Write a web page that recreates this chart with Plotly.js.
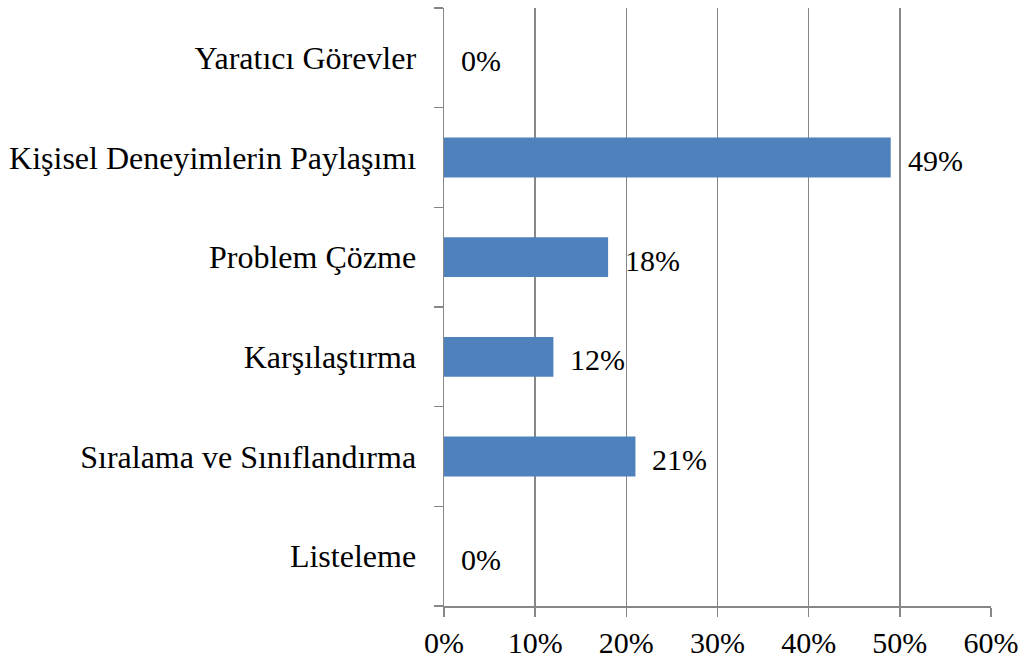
<!DOCTYPE html>
<html>
<head>
<meta charset="utf-8">
<script src="https://cdn.plot.ly/plotly-3.0.1.min.js"></script>
<style>html,body{margin:0;padding:0;background:#fff;}#chart{width:1025px;height:664px;}</style>
</head>
<body>
<div id="chart"></div>
<script>
const categories = ["Listeleme", "Sıralama ve Sınıflandırma", "Karşılaştırma", "Problem Çözme", "Kişisel Deneyimlerin Paylaşımı", "Yaratıcı Görevler"];
const values = [0, 21, 12, 18, 49, 0];
const labels = ["0%", "21%", "12%", "18%", "49%", "0%"];
const xTickVals = [0, 10, 20, 30, 40, 50, 60];
const xTickText = ["0%", "10%", "20%", "30%", "40%", "50%", "60%"];

const font = {family: "Liberation Serif, Times New Roman, serif", size: 30, color: "#000"};
const catFont = {family: "Liberation Serif, Times New Roman, serif", size: 32, color: "#000"};

const trace = {
  type: "bar",
  orientation: "h",
  x: values,
  y: categories,
  width: 0.4,
  marker: {color: "#4F81BD"},
  hoverinfo: "none"
};

const annotations = categories.map((c, i) => ({
  x: values[i], y: c, xref: "x", yref: "y",
  text: labels[i], showarrow: false,
  xanchor: "left", yanchor: "middle",
  xshift: 15, yshift: -3,
  font: font
}));

const layout = {
  width: 1025, height: 664,
  margin: {l: 444, r: 34, t: 8, b: 58},
  paper_bgcolor: "#fff", plot_bgcolor: "#fff",
  showlegend: false,
  font: font,
  xaxis: {
    range: [0, 60], tickvals: xTickVals, ticktext: xTickText,
    showgrid: true, gridcolor: "#878787", gridwidth: 1.5,
    showline: true, linecolor: "#878787", linewidth: 1.5,
    ticks: "outside", ticklen: 9, tickcolor: "#878787", tickwidth: 1.5,
    zeroline: false, tickfont: font, fixedrange: true
  },
  yaxis: {
    type: "category", range: [-0.5, 5.5],
    showgrid: false,
    showline: true, linecolor: "#878787", linewidth: 1.5,
    ticks: "outside", ticklen: 9, tickcolor: "#878787", tickwidth: 1.5,
    tickson: "boundaries",
    tickfont: catFont, ticklabelstandoff: 20, fixedrange: true
  },
  annotations: annotations
};

Plotly.newPlot("chart", [trace], layout, {displayModeBar: false, staticPlot: true});
</script>
</body>
</html>
